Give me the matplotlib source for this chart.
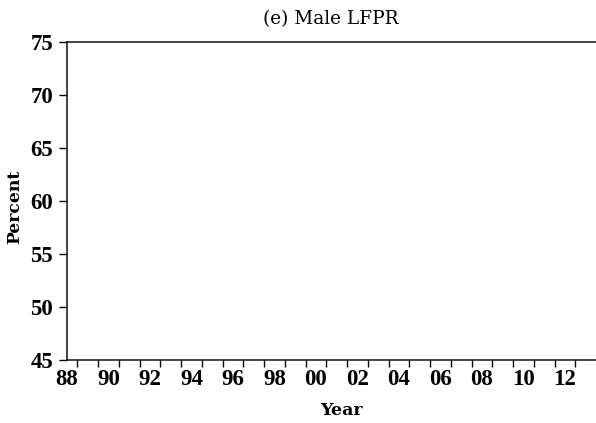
import matplotlib
matplotlib.use('Agg')
from matplotlib import pyplot as plt
import numpy as np

# chart is empty in the reference, only the frame and labels
years = [1988, 1990, 1992, 1994, 1996, 1998, 2000, 2002, 2004, 2006, 2008, 2010, 2012]
year_labels = ['88', '90', '92', '94', '96', '98', '00', '02', '04', '06', '08', '10', '12']
y_ticks = [45, 50, 55, 60, 65, 70, 75]

W, H = 596, 423
fig = plt.figure(figsize=(W / 100, H / 100), dpi=100)
ax = fig.add_axes([67 / W, (H - 359.7) / H, (W - 67) / W, (359.7 - 41.7) / H])

ax.set_xlim(1988, 2013.5)
ax.set_ylim(45, 75)

ax.spines['right'].set_visible(False)
for s in ['left', 'bottom', 'top']:
	ax.spines[s].set_linewidth(1.1)
	ax.spines[s].set_color('#111111')

tick_font = dict(fontfamily='Liberation Serif', fontweight='bold', fontsize=16.5)

ax.set_xticks(years)
ax.set_xticklabels(year_labels, **tick_font)
ax.set_xticks(np.arange(1988.5, 2013, 1.0), minor=True)
ax.tick_params(axis='x', which='major', length=0, pad=7)
ax.tick_params(axis='x', which='minor', length=5, width=1.0, direction='out')

ax.set_yticks(y_ticks)
ax.set_yticklabels([str(v) for v in y_ticks], **tick_font)
ax.tick_params(axis='y', length=6, width=1.0, direction='out', pad=4)

fig.text(331 / W, 1 - 19 / H, '(e) Male LFPR', ha='center', va='center',
	fontfamily='DejaVu Serif', fontsize=13.3)
fig.text(341 / W, 1 - 410 / H, 'Year', ha='center', va='center',
	fontfamily='DejaVu Serif', fontweight='bold', fontsize=12.5)
fig.text(15 / W, 1 - 207 / H, 'Percent', ha='center', va='center', rotation=90,
	fontfamily='DejaVu Serif', fontweight='bold', fontsize=12.3)

plt.savefig('out.png', dpi=100)
